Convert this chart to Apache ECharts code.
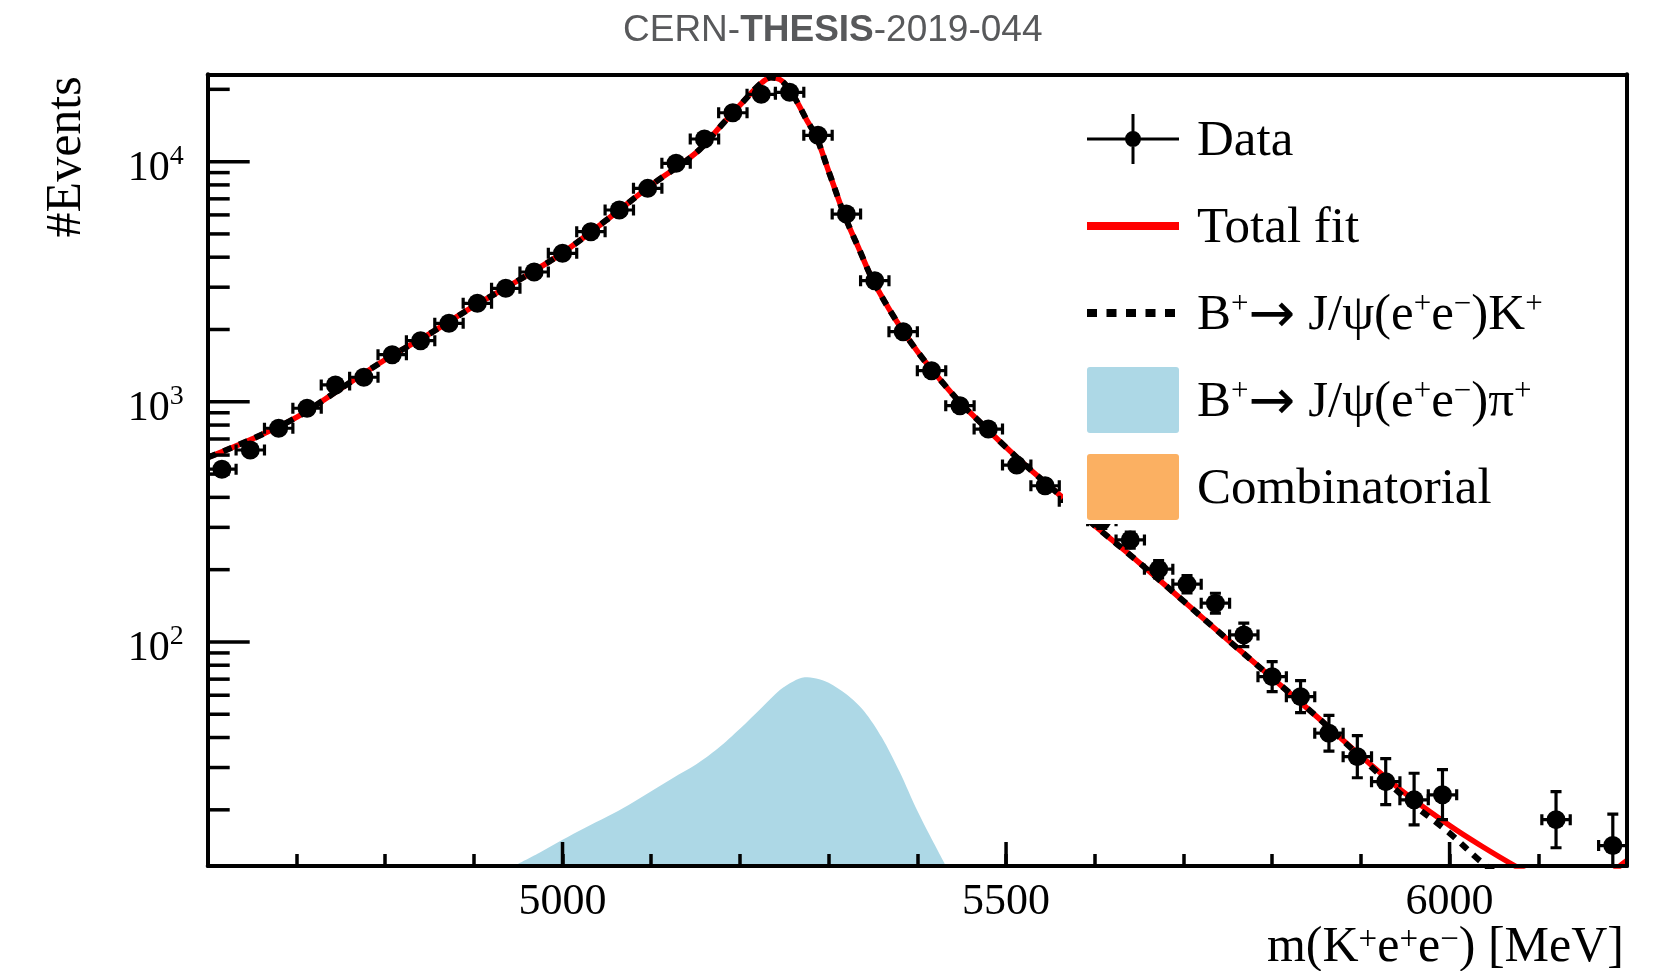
<!DOCTYPE html>
<html>
<head>
<meta charset="utf-8">
<script src="https://cdn.jsdelivr.net/npm/echarts@6/dist/echarts.min.js"></script>
<style>html,body{margin:0;padding:0;background:#fff}#c{width:1656px;height:971px}</style>
</head>
<body>
<div id="c"></div>
<script>
// ---------- data ----------
const binCenters = [4616,4648,4680,4712,4744,4776,4808,4840,4872,4904,4936,4968,5000,5032,5064,5096,5128,5160,5192,5224,5256,5288,5320,5352,5384,5416,5448,5480,5512,5544,5576,5608,5640,5672,5704,5736,5768,5800,5832,5864,5896,5928,5960,5992,6024,6056,6088,6120,6152,6184];
const binWidth = 32;
const dataCounts = [524,630,776,940,1175,1265,1571,1796,2122,2571,2969,3470,4152,5107,6289,7740,9838,12420,15980,19070,19440,12870,6050,3193,1958,1347,963,770,545,447,385,320,266,201,174,145,107,71.7,59.2,41.7,33.3,26.2,22.0,23.1,null,null,null,18.2,null,14.2];
const dataErrUp = [30,33,36,40,45,46,52,55,60,66,71,77,84,93,103,114,129,145,164,180,181,147,101,73,58,48,40,36,30,27,25,23,21,17,15,14.5,12.7,11.1,9.8,7.8,7.4,6.5,6.4,6.3,null,null,null,5.6,null,5.0];
const dataErrDown = [30,33,36,40,45,46,52,55,60,66,71,77,84,93,103,114,129,145,164,180,181,147,101,73,58,48,40,36,30,27,25,23,20,16,14,13.2,11.4,9.6,8.4,6.6,6.1,5.2,4.7,4.9,null,null,null,4.3,null,3.7];

const fitX = [4600,4650,4700,4750,4800,4850,4900,4950,5000,5050,5100,5150,5180,5200,5215,5225,5235,5245,5255,5265,5275,5286,5300,5318,5335,5350,5375,5400,5425,5450,5475,5500,5525,5550,5575,5600,5650,5700,5750,5800,5850,5900,5950,6000,6035,6075,6100,6125,6150,6175,6190,6200];
const totalFit = [586,700,861,1135,1496,1919,2500,3199,4169,5728,7980,10840,14290,17180,19720,21380,22390,21980,20180,17580,14960,12700,9120,5957,4266,3199,2213,1622,1245,977,794,646,531,442,367,305,214,148,102,70.8,49.0,33.5,23.4,17.2,14.2,11.6,10.4,9.7,9.5,10.2,11.5,12.3];
const signalFit = [586,700,861,1135,1496,1919,2500,3199,4169,5728,7980,10840,14290,17180,19720,21380,22390,21980,20180,17580,14960,12700,9120,5957,4266,3199,2213,1622,1245,977,794,646,531,442,367,305,214,148,102,70.8,49.0,33.1,22.4,16.0,12.2,9.4,7.9,6.8,5.8,4.9,4.5,4.2];

const piX = [4950,4975,5000,5025,5050,5075,5100,5125,5150,5175,5200,5225,5245,5260,5273,5286,5300,5320,5340,5360,5380,5400,5415,5431];
const piY = [11.9,13.3,15.0,16.8,18.7,21.0,23.9,27.2,30.8,36.0,43.5,53.5,63.1,68.5,71.3,70.5,67.6,60.5,51.5,40.0,28.8,19.8,15.4,11.9];

const combX = [];
const combY = [];

const xRange = [4600, 6200];
const yRange = [11.67, 23100];
const xMinorStep = 100;
const xLabelTicks = [5000, 5500, 6000];
const yMajorTicks = [100, 1000, 10000];
const yMinorTicks = [20,30,40,50,60,70,80,90,200,300,400,500,600,700,800,900,2000,3000,4000,5000,6000,7000,8000,9000,20000];

const seriesNames = ['Data', 'Total fit', 'B+→ J/ψ(e+e−)K+', 'B+→ J/ψ(e+e−)π+', 'Combinatorial'];
const legendLabels = {
  'Data': '{f|Data}',
  'Total fit': '{f|Total fit}',
  'B+→ J/ψ(e+e−)K+': '{f|B}{s|+}{r|→}{a| J/ψ(e}{s|+}{a|e}{s|−}{a|)K}{s|+}',
  'B+→ J/ψ(e+e−)π+': '{f|B}{s|+}{r|→}{a| J/ψ(e}{s|+}{a|e}{s|−}{a|)π}{s|+}',
  'Combinatorial': '{f|Combinatorial}'
};

// ---------- build ----------
const SERIF = 'Liberation Serif, Times New Roman, serif';
const zip = (xs, ys) => xs.map((x, i) => [x, ys[i]]);
const pointRows = [];
binCenters.forEach((x, i) => {
  if (dataCounts[i] != null) pointRows.push([x, dataCounts[i], dataErrUp[i], dataErrDown[i]]);
});

function renderPoint(params, api) {
  const x = api.value(0), y = api.value(1), eu = api.value(2), ed = api.value(3);
  const c = api.coord([x, y]);
  const xl = api.coord([x - binWidth / 2, y])[0];
  const xr = api.coord([x + binWidth / 2, y])[0];
  const yt = api.coord([x, y + eu])[1];
  const yb = (y - ed > 0) ? api.coord([x, y - ed])[1] : c[1] + 1000;
  const st = { stroke: '#000', lineWidth: 3.2 };
  const cap = 5.5;
  return {
    type: 'group',
    children: [
      { type: 'line', shape: { x1: xl, y1: c[1], x2: xr, y2: c[1] }, style: st },
      { type: 'line', shape: { x1: xl, y1: c[1] - cap, x2: xl, y2: c[1] + cap }, style: st },
      { type: 'line', shape: { x1: xr, y1: c[1] - cap, x2: xr, y2: c[1] + cap }, style: st },
      { type: 'line', shape: { x1: c[0], y1: yt, x2: c[0], y2: yb }, style: st },
      { type: 'line', shape: { x1: c[0] - cap, y1: yt, x2: c[0] + cap, y2: yt }, style: st },
      { type: 'line', shape: { x1: c[0] - cap, y1: yb, x2: c[0] + cap, y2: yb }, style: st },
      { type: 'circle', shape: { cx: c[0], cy: c[1], r: 9.5 }, style: { fill: '#000' } }
    ]
  };
}

function yTickRenderer(len) {
  return function (params, api) {
    const c = api.coord([api.value(0), api.value(1)]);
    return { type: 'line', shape: { x1: c[0], y1: c[1], x2: c[0] + len, y2: c[1] }, style: { stroke: '#000', lineWidth: 3.5 } };
  };
}
function xTickRenderer(len) {
  return function (params, api) {
    const c = api.coord([api.value(0), api.value(1)]);
    return { type: 'line', shape: { x1: c[0], y1: c[1], x2: c[0], y2: c[1] - len }, style: { stroke: '#000', lineWidth: 3.5 } };
  };
}

const hiddenSymbol = { color: 'rgba(0,0,0,0)', borderColor: 'rgba(0,0,0,0)', borderWidth: 0 };
const swatch = 'path://M3 0H89Q92 0 92 3V63Q92 66 89 66H3Q0 66 0 63V3Q0 0 3 0Z';

const chart = echarts.init(document.getElementById('c'), null, { renderer: 'canvas' });
const option = {
  animation: false,
  backgroundColor: '#fff',
  title: {
    text: 'CERN-{b|THESIS}-2019-044',
    left: 623,
    top: 12,
    padding: 0,
    textStyle: {
      fontFamily: 'Liberation Sans, Arial, sans-serif', fontSize: 37, fontWeight: 'normal', color: '#58595b',
      rich: { b: { fontFamily: 'Liberation Sans, Arial, sans-serif', fontSize: 37, fontWeight: 'bold', color: '#58595b' } }
    }
  },
  grid: { left: 207.7, right: 29, top: 74.3, bottom: 105, containLabel: false, outerBoundsMode: 'none' },
  legend: {
    orient: 'vertical',
    left: 1063,
    top: 96,
    padding: [10, 20, 4, 20],
    itemWidth: 92,
    itemHeight: 66,
    itemGap: 21,
    backgroundColor: '#fff',
    selectedMode: false,
    z: 20,
    data: [
      { name: seriesNames[0], icon: 'path://M0 23.5H92V26.5H0Z M44.5 0H47.5V50H44.5Z M38 25A8 8 0 1 1 54 25A8 8 0 1 1 38 25Z' },
      { name: seriesNames[1], itemStyle: hiddenSymbol, lineStyle: { color: '#ff0000', width: 8 } },
      { name: seriesNames[2], itemStyle: hiddenSymbol, lineStyle: { color: '#000', width: 8, type: [10, 9.5], cap: 'butt' } },
      { name: seriesNames[3], icon: swatch },
      { name: seriesNames[4], icon: swatch }
    ],
    formatter: name => legendLabels[name] || name,
    textStyle: {
      fontFamily: SERIF, fontSize: 51, color: '#000', lineHeight: 66, height: 66,
      rich: {
        f: { fontFamily: SERIF, fontSize: 51, color: '#000', lineHeight: 66, padding: [6, 0, 0, 13] },
        a: { fontFamily: SERIF, fontSize: 51, color: '#000', lineHeight: 66, padding: [6, 0, 0, 0] },
        r: { fontFamily: "'DejaVu Sans ExtraLight', 'DejaVu Sans', sans-serif", fontSize: 56, color: '#000', lineHeight: 66, verticalAlign: 'middle', padding: [8, 0, 0, 0] },
        s: { fontFamily: SERIF, fontSize: 31, color: '#000', verticalAlign: 'top', padding: [9, 0, 0, 0] }
      }
    }
  },
  xAxis: [
    {
      type: 'value', min: xRange[0], max: xRange[1], interval: xMinorStep, z: 5,
      axisLine: { show: true, onZero: false, lineStyle: { color: '#000', width: 4 } },
      axisTick: { show: true, inside: true, length: 12, lineStyle: { color: '#000', width: 3.5 } },
      axisLabel: {
        show: true, margin: 14, fontFamily: SERIF, fontSize: 44, color: '#000',
        formatter: v => (xLabelTicks.indexOf(Math.round(v)) >= 0 ? String(Math.round(v)) : '')
      },
      splitLine: { show: false },
      name: '{a|m(K}{s|+}{a|e}{s|+}{a|e}{s|−}{a|) [MeV]}',
      nameLocation: 'end', nameGap: -3, nameMoveOverlap: false,
      nameTextStyle: {
        align: 'right', verticalAlign: 'top', padding: [57, 0, 0, 0],
        fontFamily: SERIF, fontSize: 50, color: '#000',
        rich: {
          a: { fontFamily: SERIF, fontSize: 50, color: '#000' },
          s: { fontFamily: SERIF, fontSize: 33, color: '#000', verticalAlign: 'top', padding: [1, 0, 0, 0] }
        }
      }
    },
    {
      type: 'value', position: 'top', min: xRange[0], max: xRange[1], z: 5,
      axisLine: { show: true, onZero: false, lineStyle: { color: '#000', width: 4 } },
      axisTick: { show: false }, axisLabel: { show: false }, splitLine: { show: false }
    }
  ],
  yAxis: [
    {
      type: 'log', logBase: 10, min: yRange[0], max: yRange[1], z: 5,
      axisLine: { show: true, onZero: false, lineStyle: { color: '#000', width: 4 } },
      axisTick: { show: false },
      minorTick: { show: false },
      splitLine: { show: false },
      axisLabel: {
        show: true, margin: 24, color: '#000', fontFamily: SERIF, fontSize: 42,
        formatter: function (v) {
          const e = Math.log10(v), n = Math.round(e);
          if (Math.abs(e - n) > 1e-6) return '';
          return '{b|10}{s|' + n + '}';
        },
        rich: {
          b: { fontFamily: SERIF, fontSize: 42, color: '#000', verticalAlign: 'bottom', padding: [14, 0, 0, 0] },
          s: { fontFamily: SERIF, fontSize: 28, color: '#000', verticalAlign: 'top', padding: [9, 0, 0, 0] }
        }
      },
      name: '#Events',
      nameLocation: 'end', nameGap: -2, nameRotate: 90, nameMoveOverlap: false,
      nameTextStyle: { fontFamily: SERIF, fontSize: 50, color: '#000', align: 'right', verticalAlign: 'bottom', padding: [0, 0, 116, 0] }
    },
    {
      type: 'value', position: 'right', min: 0, max: 1, z: 5,
      axisLine: { show: true, onZero: false, lineStyle: { color: '#000', width: 4 } },
      axisTick: { show: false }, axisLabel: { show: false }, splitLine: { show: false }
    }
  ],
  series: [
    {
      name: seriesNames[3], type: 'line', z: 1, data: zip(piX, piY), smooth: 0.3,
      symbol: 'none', color: '#add8e6', clip: true,
      lineStyle: { width: 0, color: '#add8e6' },
      areaStyle: { color: '#add8e6', opacity: 1, origin: 'start' }
    },
    {
      name: seriesNames[4], type: 'line', z: 1, data: zip(combX, combY),
      symbol: 'none', color: '#fbb062', lineStyle: { width: 0 }, areaStyle: { color: '#fbb062', opacity: 1, origin: 'start' }
    },
    {
      name: seriesNames[1], type: 'line', z: 2, data: zip(fitX, totalFit), smooth: 0.35,
      symbol: 'none', showSymbol: false, color: '#ff0000', clip: true,
      lineStyle: { color: '#ff0000', width: 5.5 }
    },
    {
      name: seriesNames[2], type: 'line', z: 3, data: zip(fitX, signalFit), smooth: 0.35,
      symbol: 'none', showSymbol: false, color: '#000', clip: true,
      lineStyle: { color: '#000', width: 6, type: [9, 8], cap: 'butt' }
    },
    {
      name: seriesNames[0], type: 'custom', z: 4, coordinateSystem: 'cartesian2d', clip: true,
      color: '#000', itemStyle: { color: '#000' },
      encode: { x: 0, y: 1 },
      data: pointRows,
      renderItem: renderPoint
    },
    {
      name: 'yMajorTicks', type: 'custom', z: 6, silent: true, coordinateSystem: 'cartesian2d',
      encode: { x: 0, y: 1 }, data: yMajorTicks.map(v => [xRange[0], v]), renderItem: yTickRenderer(42)
    },
    {
      name: 'yMinorTicks', type: 'custom', z: 6, silent: true, coordinateSystem: 'cartesian2d',
      encode: { x: 0, y: 1 }, data: yMinorTicks.map(v => [xRange[0], v]), renderItem: yTickRenderer(22)
    },
    {
      name: 'xMajorTicks', type: 'custom', z: 6, silent: true, coordinateSystem: 'cartesian2d',
      encode: { x: 0, y: 1 }, data: xLabelTicks.map(v => [v, yRange[0]]), renderItem: xTickRenderer(24)
    }
  ]
};
chart.setOption(option);
</script>
</body>
</html>
